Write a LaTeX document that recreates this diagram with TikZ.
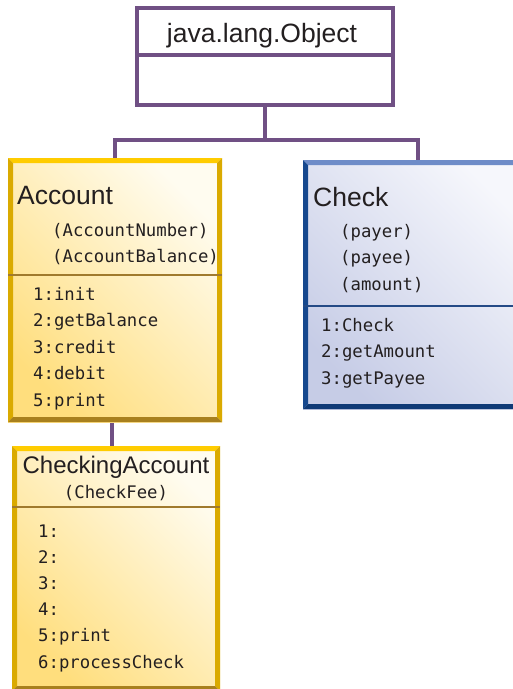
\documentclass[tikz,border=0pt]{standalone}
\usepackage{fontspec}
\setsansfont{Liberation Sans}
\setmonofont{DejaVu Sans Mono}
\definecolor{objline}{RGB}{112,80,132}
\definecolor{inktext}{RGB}{35,31,32}
\definecolor{goldtop}{RGB}{255,204,0}
\definecolor{goldside}{RGB}{218,170,0}
\definecolor{goldbottom}{RGB}{168,128,30}
\definecolor{goldrule}{RGB}{160,122,45}
\definecolor{goldlight}{RGB}{255,252,240}
\definecolor{golddark}{RGB}{255,222,125}
\definecolor{bluetop}{RGB}{110,140,200}
\definecolor{blueside}{RGB}{22,72,142}
\definecolor{bluebottom}{RGB}{15,58,118}
\definecolor{bluerule}{RGB}{36,74,134}
\definecolor{bluelight}{RGB}{246,247,252}
\definecolor{bluedark}{RGB}{198,204,230}
% bevelled frame round a class box: node, top, sides, bottom
\newcommand{\classframe}[4]{%
  \fill[#2] (#1.north west) -- (#1.north east) -- ([shift={(-5pt,-5pt)}]#1.north east)
    -- ([shift={(5pt,-5pt)}]#1.north west) -- cycle;
  \fill[#3] (#1.north west) -- ([shift={(5pt,-5pt)}]#1.north west)
    -- ([shift={(5pt,5pt)}]#1.south west) -- (#1.south west) -- cycle;
  \fill[#3] (#1.north east) -- ([shift={(-5pt,-5pt)}]#1.north east)
    -- ([shift={(-5pt,5pt)}]#1.south east) -- (#1.south east) -- cycle;
  \fill[#4] (#1.south west) -- (#1.south east) -- ([shift={(-5pt,5pt)}]#1.south east)
    -- ([shift={(5pt,5pt)}]#1.south west) -- cycle;
}
\begin{document}
\begin{tikzpicture}[
    x=1pt, y=-1pt,
    classbox/.style={rectangle, inner sep=0pt, outer sep=0pt, anchor=north west},
    link/.style={draw=objline, line width=3.3pt},
    title/.style={font=\sffamily\fontsize{26.5}{30}\selectfont, text=inktext, anchor=base west, inner sep=0pt},
    member/.style={font=\ttfamily\fontsize{17.3}{20}\selectfont, text=inktext, anchor=base west, inner sep=0pt}
]
  \useasboundingbox (0,0) rectangle (513,689);
  % --- the boxes, placed first so that the links can use them ------------
  \node[classbox, minimum width=256pt, minimum height=97pt] (obj) at (137,8) {};
  \node[classbox, minimum width=214pt, minimum height=264pt] (acct) at (8,158) {};
  \node[classbox, minimum width=230pt, minimum height=249pt] (chk) at (303,160) {};
  \node[classbox, minimum width=208pt, minimum height=245pt] (chkacct) at (12,446) {};
  % --- inheritance links ---------------------------------------------------
  \coordinate (fork) at (265,140);
  \draw[link] (obj.south) -- (fork);
  \draw[link] (fork) -| (acct.north);
  \draw[link] (fork) -| (chk.north);
  \draw[link] (acct.south -| 112,0) -- (chkacct.north -| 112,0);
  % --- java.lang.Object ----------------------------------------------------
  \draw[link] (obj.north west) rectangle (obj.south east);
  \draw[link] (137,55) -- (393,55);
  \node[title, anchor=base] (obj-name) at (262,42) {java.lang.Object};
  % --- Account -------------------------------------------------------------
  \shade[top color=golddark, bottom color=goldlight, shading angle=135]
    (acct.north west) rectangle (acct.south east);
  \classframe{acct}{goldtop}{goldside}{goldbottom}
  \draw[goldrule, line width=2.5pt] (8,275) -- (222,275);
  \node[title] (acct-name) at (17,204) {Account};
  \foreach \txt [count=\i] in {(AccountNumber), (AccountBalance)}
    \node[member] (acct-field\i) at (52, {236+26*(\i-1)}) {\txt};
  \foreach \txt [count=\i] in {1:init, 2:getBalance, 3:credit, 4:debit, 5:print}
    \node[member] (acct-op\i) at (33, {300+26.5*(\i-1)}) {\txt};
  % --- Check ---------------------------------------------------------------
  \shade[top color=bluedark, bottom color=bluelight, shading angle=135]
    (chk.north west) rectangle (chk.south east);
  \classframe{chk}{bluetop}{blueside}{bluebottom}
  \draw[bluerule, line width=2.5pt] (303,306) -- (533,306);
  \node[title] (chk-name) at (313,206) {Check};
  \foreach \txt [count=\i] in {(payer), (payee), (amount)}
    \node[member] (chk-field\i) at (340, {237+26.5*(\i-1)}) {\txt};
  \foreach \txt [count=\i] in {1:Check, 2:getAmount, 3:getPayee}
    \node[member] (chk-op\i) at (321, {331+26.8*(\i-1)}) {\txt};
  % --- CheckingAccount -----------------------------------------------------
  \shade[top color=golddark, bottom color=goldlight, shading angle=135]
    (chkacct.north west) rectangle (chkacct.south east);
  \classframe{chkacct}{goldtop}{goldside}{goldbottom}
  \draw[goldrule, line width=2.5pt] (12,507) -- (220,507);
  \node[title, anchor=base, font=\sffamily\fontsize{24}{28}\selectfont]
    (chkacct-name) at (116,473) {CheckingAccount};
  \node[member, anchor=base] (chkacct-field) at (116,498) {(CheckFee)};
  \foreach \txt [count=\i] in {1:, 2:, 3:, 4:, 5:print, 6:processCheck}
    \node[member] (chkacct-op\i) at (38, {537+26.2*(\i-1)}) {\txt};
\end{tikzpicture}
\end{document}
